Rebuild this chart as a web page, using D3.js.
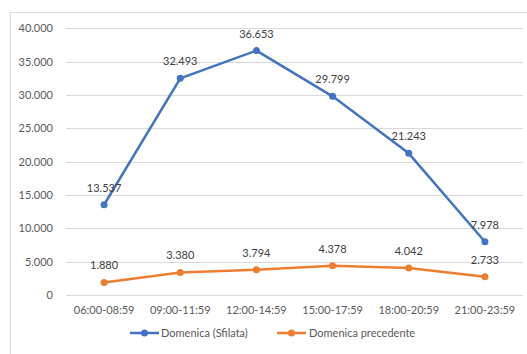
<!DOCTYPE html>
<html>
<head>
<meta charset="utf-8">
<script src="https://cdn.jsdelivr.net/npm/d3@7"></script>
<style>
  html, body { margin: 0; padding: 0; background: #fff; }
  svg { display: block; font-family: Lato, "Open Sans", sans-serif; }
</style>
</head>
<body>
<svg id="chart" width="527" height="354"></svg>
<script>
// Hourly time slots (x axis)
const categories = ["06:00-08:59", "09:00-11:59", "12:00-14:59", "15:00-17:59", "18:00-20:59", "21:00-23:59"];
// Visitors per slot
const sfilata = [13537, 32493, 36653, 29799, 21243, 7978];
const precedente = [1880, 3380, 3794, 4378, 4042, 2733];
// Y axis ticks
const yTicks = [0, 5000, 10000, 15000, 20000, 25000, 30000, 35000, 40000];
const seriesNames = ["Domenica (Sfilata)", "Domenica precedente"];
const seriesColors = ["#4472C4", "#ED7D31"];

const svg = d3.select("#chart");
const W = 527, H = 354;
const plot = { left: 66, right: 523, top: 28.3, bottom: 295 };

// Chart frame
svg.append("rect")
  .attr("x", 10.5).attr("y", 12.5)
  .attr("width", W + 10).attr("height", H + 10)
  .attr("fill", "#fff").attr("stroke", "#d9d9d9").attr("stroke-width", 1);

const x = d3.scaleBand().domain(categories).range([plot.left, plot.right]);
const y = d3.scaleLinear().domain([0, 40000]).range([plot.bottom, plot.top]);
const fmt = v => d3.format(",")(v).replace(/,/g, ".");

// Gridlines
svg.append("g").selectAll("line").data(yTicks).join("line")
  .attr("x1", plot.left).attr("x2", plot.right)
  .attr("y1", d => Math.round(y(d)) + 0.5).attr("y2", d => Math.round(y(d)) + 0.5)
  .attr("stroke", "#d9d9d9").attr("stroke-width", 1);

// Y axis labels
const yAxis = svg.append("g").attr("transform", `translate(${plot.left},0)`)
  .call(d3.axisLeft(y).tickValues(yTicks).tickSize(0).tickPadding(13).tickFormat(fmt));
yAxis.select(".domain").remove();
yAxis.selectAll("text").attr("fill", "#595959").style("font-size", "11px").style("font-family", "Lato, sans-serif");

// X axis labels
const xAxis = svg.append("g").attr("transform", `translate(0,${plot.bottom})`)
  .call(d3.axisBottom(x).tickSize(0).tickPadding(11));
xAxis.select(".domain").remove();
xAxis.selectAll("text").attr("fill", "#595959").style("font-size", "11px").style("font-family", "Lato, sans-serif");

const cx = d => x(d) + x.bandwidth() / 2;
const line = d3.line().x(d => cx(d.cat)).y(d => y(d.v));

[sfilata, precedente].forEach((vals, i) => {
  const pts = vals.map((v, j) => ({ cat: categories[j], v }));
  const g = svg.append("g");
  g.append("path").datum(pts)
    .attr("d", line).attr("fill", "none")
    .attr("stroke", seriesColors[i]).attr("stroke-width", 2.5)
    .attr("stroke-linejoin", "round");
  g.selectAll("circle").data(pts).join("circle")
    .attr("cx", d => cx(d.cat)).attr("cy", d => y(d.v)).attr("r", 3.5)
    .attr("fill", seriesColors[i]);
  g.selectAll("text").data(pts).join("text")
    .attr("x", d => cx(d.cat)).attr("y", d => y(d.v) - 13)
    .attr("text-anchor", "middle").attr("fill", "#404040")
    .style("font-size", "11px")
    .text(d => fmt(d.v));
});

// Legend
const legendItems = [{ x: 130, tx: 161 }, { x: 277, tx: 309 }];
legendItems.forEach((it, i) => {
  const g = svg.append("g").attr("transform", `translate(0,333)`);
  g.append("line").attr("x1", it.x).attr("x2", it.x + 29).attr("y1", 0).attr("y2", 0)
    .attr("stroke", seriesColors[i]).attr("stroke-width", 2.5);
  g.append("circle").attr("cx", it.x + 14.5).attr("cy", 0).attr("r", 3.5).attr("fill", seriesColors[i]);
  g.append("text").attr("x", it.tx).attr("y", 4).attr("fill", "#595959")
    .style("font-size", "11px").text(seriesNames[i]);
});
</script>
</body>
</html>
